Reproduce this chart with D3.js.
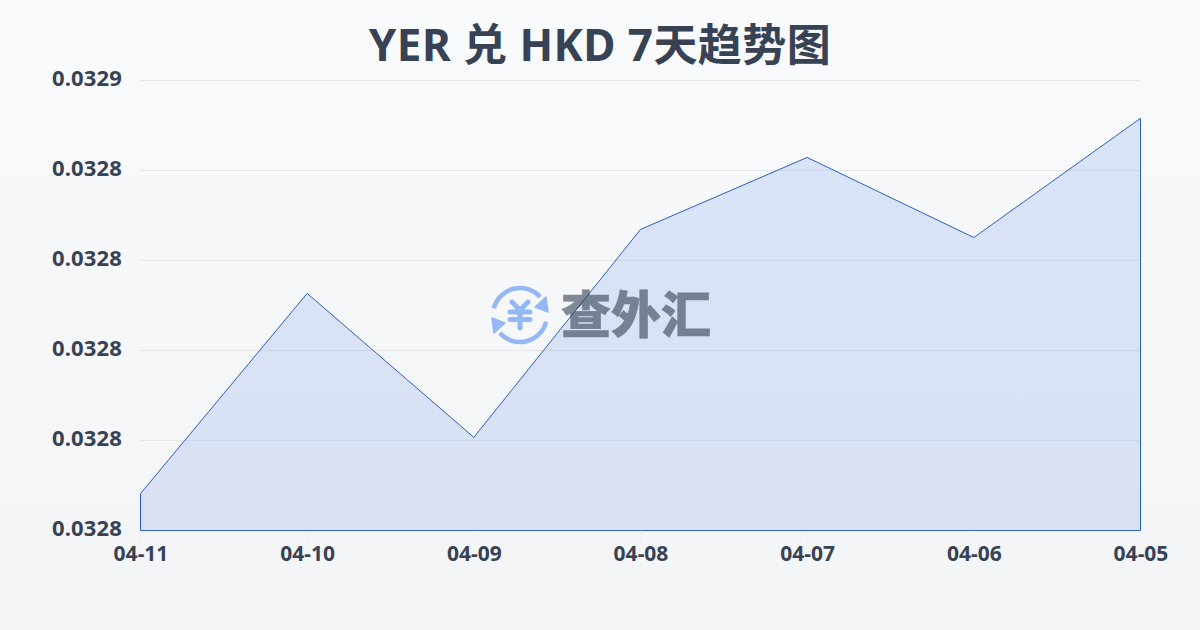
<!DOCTYPE html>
<html><head><meta charset="utf-8">
<script src="https://cdn.jsdelivr.net/npm/d3@7"></script>
<style>html,body{margin:0;padding:0;width:1200px;height:630px;overflow:hidden}svg{display:block}</style>
</head><body><div id="c"></div>
<script>
const titleText = "YER 兑 HKD 7天趋势图";
const dates = ["04-11","04-10","04-09","04-08","04-07","04-06","04-05"];
const rates = [0.0327682,0.0328127,0.0327807,0.0328269,0.0328429,0.0328251,0.0328516];
const yTicks = [0.03276,0.03278,0.03280,0.03282,0.03284,0.03286];
const yLabels = ["0.0328","0.0328","0.0328","0.0328","0.0328","0.0329"];
const W=1200,H=630;
const font='"Noto Sans","Noto Sans CJK SC",sans-serif';
const ink="#374254";
const svg=d3.select("#c").append("svg").attr("width",W).attr("height",H);
const defs=svg.append("defs");
const bg=defs.append("linearGradient").attr("id","bg").attr("x1",0).attr("y1",0).attr("x2",0).attr("y2",1);
bg.append("stop").attr("offset","0%").attr("stop-color","#f8fafc");
bg.append("stop").attr("offset","100%").attr("stop-color","#f3f4f6");
svg.append("rect").attr("width",W).attr("height",H).attr("fill","url(#bg)");

const x=d3.scalePoint().domain(dates).range([140.5,1140.5]);
const y=d3.scaleLinear().domain([0.03276,0.03286]).range([530.5,80.5]);

svg.append("g").selectAll("line").data(yTicks.slice(1)).join("line")
 .attr("x1",140).attr("x2",1140).attr("y1",d=>y(d)).attr("y2",d=>y(d))
 .attr("stroke","#e5e7eb").attr("stroke-width",1);

const area=d3.area().x((d,i)=>x(dates[i])).y0(530.5).y1(d=>y(d));
const fill=defs.append("linearGradient").attr("id","af").attr("x1",0).attr("y1",0).attr("x2",0).attr("y2",1);
fill.append("stop").attr("offset","0%").attr("stop-color","#2563eb").attr("stop-opacity",.14);
fill.append("stop").attr("offset","100%").attr("stop-color","#2559d0").attr("stop-opacity",.13);
svg.append("path").datum(rates).attr("d",area)
 .attr("fill","url(#af)").attr("stroke","#2a5fc4").attr("stroke-width",1);

// watermark, translucent and above the area
const wm=svg.append("g");
const icon=wm.append("g").attr("transform","translate(520,315)").attr("fill","none").attr("stroke","#93b8f5").attr("stroke-linecap","round");
const arc=d3.arc().innerRadius(27).outerRadius(27);
icon.append("path").attr("d",arc({startAngle:-1.32,endAngle:0.84})).attr("stroke-width",4.5);
icon.append("path").attr("d",arc({startAngle:-1.32+Math.PI,endAngle:0.84+Math.PI})).attr("stroke-width",4.5);
icon.append("path").attr("d","M28,-3 L26,-18 L15,-8 Z").attr("fill","#93b8f5").attr("stroke","#93b8f5").attr("stroke-width",1.5).attr("stroke-linejoin","round");
icon.append("path").attr("d","M-28,3 L-26,18 L-15,8 Z").attr("fill","#93b8f5").attr("stroke","#93b8f5").attr("stroke-width",1.5).attr("stroke-linejoin","round");
icon.append("path").attr("d","M-8,-13 L0,-5 L8,-13 M-10,-3 H10 M-10,4.5 H10 M0,-5 V13").attr("stroke-width",5);
wm.append("text").attr("x",636).attr("y",333).attr("text-anchor","middle")
 .attr("font-family",'"Noto Sans CJK SC"').attr("font-weight",900).attr("font-size",50)
 .attr("fill","#2f3a4e").attr("stroke","#2f3a4e").attr("stroke-width",.6).attr("opacity",.58).text("查外汇");

svg.append("g").selectAll("line").data(dates).join("line")
 .attr("x1",d=>x(d)).attr("x2",d=>x(d)).attr("y1",531).attr("y2",541)
 .attr("stroke","#e5e7eb").attr("stroke-opacity",.6);

svg.append("g").selectAll("text").data(yTicks).join("text")
 .attr("x",122).attr("y",d=>y(d)-2).attr("dy","0.35em").attr("text-anchor","end")
 .attr("font-family",font).attr("font-weight",700).attr("font-size",22).attr("letter-spacing",.15).attr("fill",ink)
 .text((d,i)=>yLabels[i]);

svg.append("g").selectAll("text").data(dates).join("text")
 .attr("x",d=>x(d)+.5).attr("y",561).attr("text-anchor","middle")
 .attr("font-family",font).attr("font-weight",700).attr("font-size",21).attr("fill",ink)
 .text(d=>d);

svg.append("text").attr("x",600).attr("y",61).attr("text-anchor","middle")
 .attr("font-family",font).attr("font-weight",700).attr("font-size",44).attr("letter-spacing",.45).attr("fill",ink)
 .text(titleText);
</script></body></html>
